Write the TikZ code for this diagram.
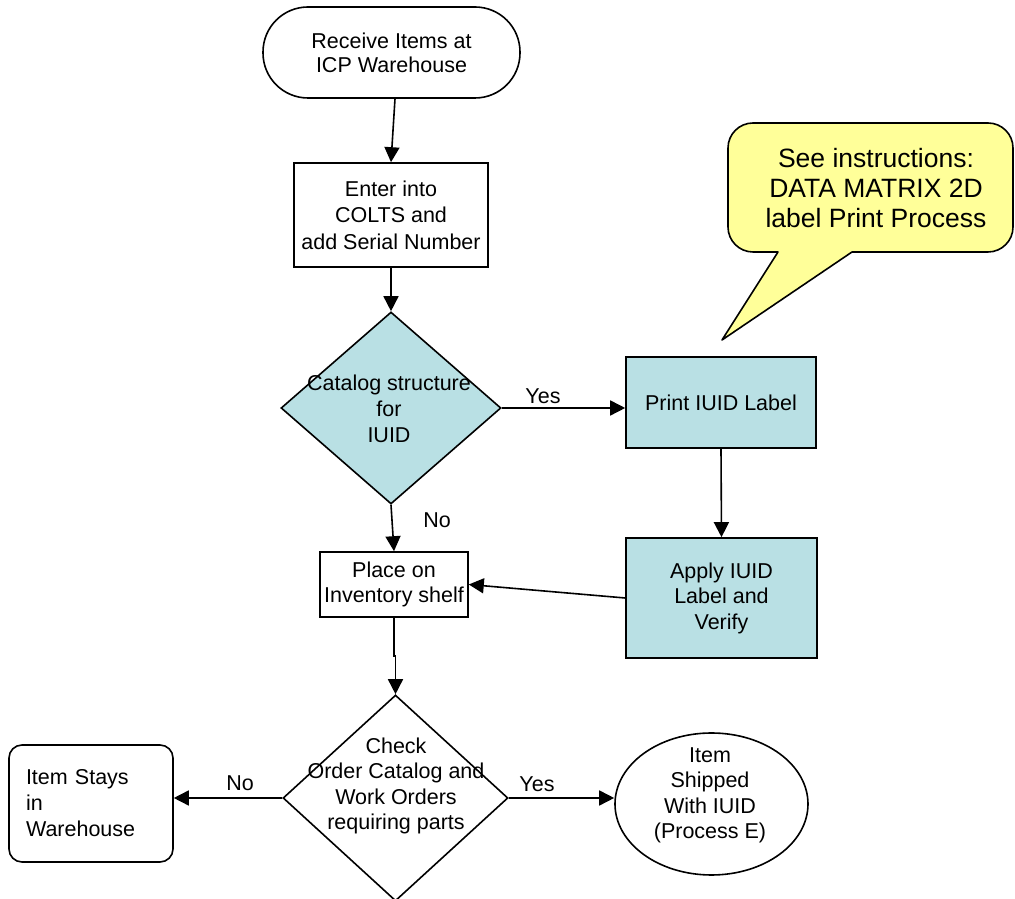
\documentclass[tikz,border=0pt]{standalone}
\usepackage{fontspec}
\setmainfont{Liberation Sans}
\usetikzlibrary{arrows.meta,shapes.geometric}
\definecolor{flowblue}{RGB}{185,224,228}
\definecolor{noteyellow}{RGB}{255,255,153}
\tikzset{
  base/.style={draw=black,line width=1.6pt,align=center,inner sep=0pt,font=\fontsize{21.5}{25.5}\selectfont},
  procbox/.style={base,rectangle},
  bluebox/.style={procbox,fill=flowblue},
  termbox/.style={base,rectangle,rounded corners=45pt},
  decide/.style={draw=black,line width=1.6pt,diamond,inner sep=0pt},
  txt/.style={align=center,inner sep=0pt,font=\fontsize{21.5}{25.5}\selectfont},
  lbl/.style={inner sep=0pt,font=\fontsize{21.5}{25}\selectfont},
  arr/.style={line width=1.6pt,-{Triangle[length=15pt,width=15pt]}},
}
\begin{document}
\begin{tikzpicture}[x=1pt,y=1pt]
\useasboundingbox (0,0) rectangle (1015,899);
% callout
\draw[line width=1.6pt,fill=noteyellow,line join=round]
  (778,647) -- (722,559) -- (852,647) -- (988,647)
  arc[start angle=-90,end angle=0,radius=25] -- (1013,751)
  arc[start angle=0,end angle=90,radius=25] -- (753,776)
  arc[start angle=90,end angle=180,radius=25] -- (728,672)
  arc[start angle=180,end angle=270,radius=25] -- cycle;
\node[txt,font=\fontsize{26.5}{30}\selectfont] (note) at (876,711)
  {See instructions:\\DATA MATRIX 2D\\label Print Process};
% nodes
\node[termbox,minimum width=257pt,minimum height=91pt,font=\fontsize{21.5}{24}\selectfont] (start) at (391.5,846.5)
  {Receive Items at\\ICP Warehouse};
\node[procbox,minimum width=194pt,minimum height=104pt,font=\fontsize{21.5}{26.5}\selectfont] (enter) at (391,684)
  {Enter into\\COLTS and\\add Serial Number};
\node[decide,fill=flowblue,minimum width=220pt,minimum height=192pt] (d1) at (391,491) {};
\node[txt,font=\fontsize{21.5}{26}\selectfont] (d1text) at (389,490) {Catalog structure\\for\\IUID};
\node[bluebox,minimum width=190pt,minimum height=91pt] (print) at (721,496.5) {Print IUID Label};
\node[bluebox,minimum width=191pt,minimum height=120pt] (apply) at (721.5,301) {Apply IUID\\Label and\\Verify};
\node[procbox,minimum width=148pt,minimum height=65pt,font=\fontsize{21.5}{25}\selectfont] (place) at (394,314.5)
  {Place on\\Inventory shelf};
\node[decide,minimum width=225pt,minimum height=206pt] (d2) at (395.5,101) {};
\node[txt] (d2text) at (396,113) {Check\\Order Catalog and\\Work Orders\\requiring parts};
\node[base,rectangle,rounded corners=13pt,minimum width=164pt,minimum height=117pt,
  align=left,text width=130pt,inner xsep=17pt,font=\fontsize{21.5}{26}\selectfont] (stays) at (91,95.5)
  {Item Stays\\in\\Warehouse};
\node[draw=black,line width=1.6pt,ellipse,inner sep=0pt,minimum width=193pt,minimum height=142pt] (ship) at (711.5,95) {};
\node[txt] (shiptext) at (710,103.5) {Item\\Shipped\\With IUID\\(Process E)};
% labels
\node[lbl] (yes1) at (543,503) {Yes};
\node[lbl] (no1) at (437,379) {No};
\node[lbl] (no2) at (240,116) {No};
\node[lbl] (yes2) at (537,115) {Yes};
% connectors
\draw[arr] ([xshift=3.5pt]start.south) -- (enter.north);
\draw[arr] (enter.south) -- (d1.north);
\draw[arr] (d1.east) -- (d1.east -| print.west);
\draw[arr] (print.south) -- (apply.north);
\draw[arr] (apply.west) -- (place.east);
\draw[arr] (d1.south) -- (place.north);
\draw[arr] (place.south) -- ([yshift=-38pt]place.south) -- ([yshift=-38pt]place.south -| d2.north) -- (d2.north);
\draw[arr] (d2.west) -- (d2.west -| stays.east);
\draw[arr] (d2.east) -- (d2.east -| ship.west);
\end{tikzpicture}
\end{document}
